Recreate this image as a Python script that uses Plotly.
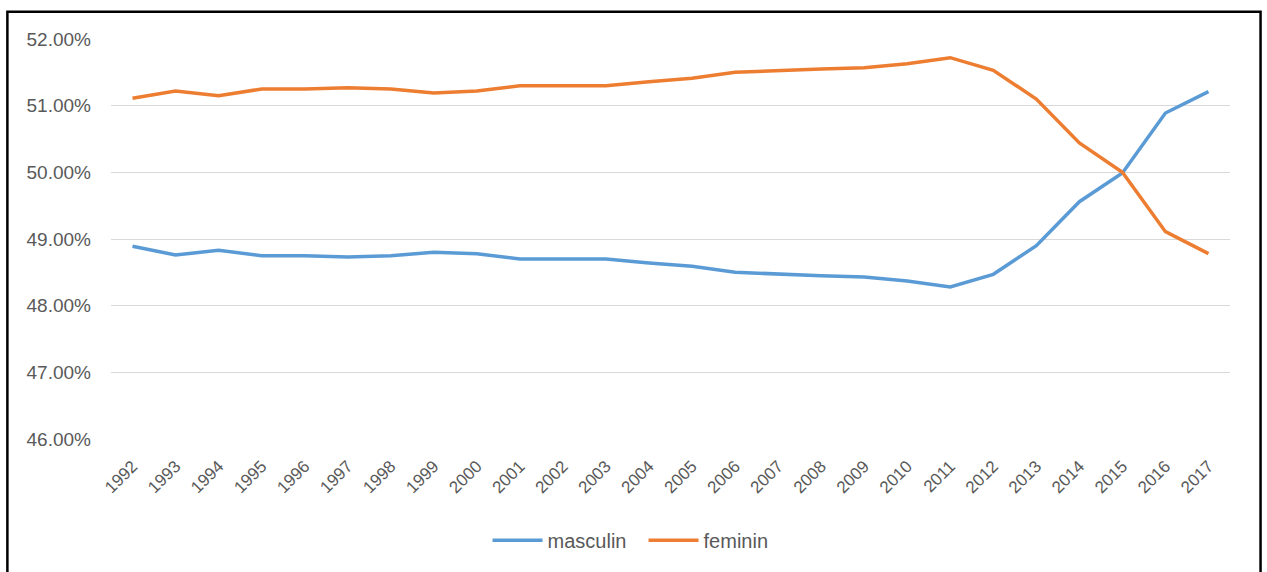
import plotly.graph_objects as go

years = [str(y) for y in range(1992, 2018)]
masculin = [48.89, 48.76, 48.83, 48.75, 48.75, 48.73, 48.75, 48.80, 48.78, 48.70,
            48.70, 48.70, 48.64, 48.59, 48.50, 48.47, 48.45, 48.43, 48.37, 48.28,
            48.47, 48.90, 49.56, 49.99, 50.89, 51.21]
feminin = [51.11, 51.22, 51.15, 51.25, 51.25, 51.27, 51.25, 51.19, 51.22, 51.30,
           51.30, 51.30, 51.36, 51.41, 51.50, 51.53, 51.55, 51.57, 51.63, 51.72,
           51.53, 51.10, 50.44, 50.00, 49.11, 48.78]
y_ticks = [46, 47, 48, 49, 50, 51, 52]
y_ticktext = [f"{v:.2f}%" for v in y_ticks]

FONT = "Liberation Sans"
GRAY = "#595959"

fig = go.Figure()
fig.add_trace(go.Scatter(x=years, y=masculin, name="masculin", mode="lines",
                         line=dict(color="#5B9BD5", width=3.5)))
fig.add_trace(go.Scatter(x=years, y=feminin, name="feminin", mode="lines",
                         line=dict(color="#ED7D31", width=3.5)))

fig.update_layout(
    width=1267, height=572,
    margin=dict(l=111, r=37, t=39, b=133),
    paper_bgcolor="white", plot_bgcolor="white",
    font=dict(family=FONT, size=18, color=GRAY),
    showlegend=True,
    legend=dict(orientation="h", x=0.3365, xanchor="left", y=-0.253, yanchor="middle",
                font=dict(family=FONT, size=20, color=GRAY), itemwidth=50,
                entrywidth=91),
    xaxis=dict(type="category", range=[-0.5, 25.5], tickangle=-45,
               showgrid=False, showline=False, ticks="", ticklabelstandoff=13,
               tickfont=dict(family=FONT, size=17, color=GRAY)),
    yaxis=dict(range=[46, 52], tickvals=y_ticks, ticktext=y_ticktext,
               showgrid=True, gridcolor="#D9D9D9", gridwidth=1.3, zeroline=False,
               showline=False, ticks="", ticklabelstandoff=19,
               tickfont=dict(family=FONT, size=19, color=GRAY)),
    shapes=[dict(type="rect", xref="paper", yref="paper",
                 x0=-0.0926, x1=1.0273, y0=-0.34, y1=1.068,
                 line=dict(color="black", width=2.5), fillcolor="rgba(0,0,0,0)")],
)

fig.write_html("out.html", config={"displayModeBar": False},
               post_script="document.body.style.margin='0';document.body.style.padding='0';")
